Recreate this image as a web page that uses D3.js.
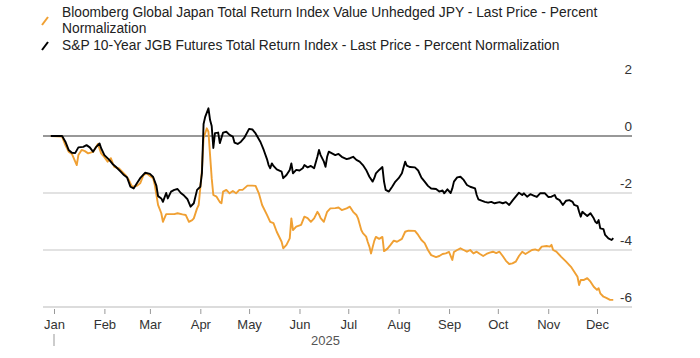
<!DOCTYPE html>
<html>
<head>
<meta charset="utf-8">
<script src="https://cdn.jsdelivr.net/npm/d3@7"></script>
<style>
  html, body { margin: 0; padding: 0; background: #ffffff; }
  svg { display: block; }
  text { font-family: "Liberation Sans", Arial, sans-serif; }
</style>
</head>
<body>
<svg id="chart" width="700" height="358"></svg>
<script>
// ---------- DATA ----------
const seriesNames = [
  "Bloomberg Global Japan Total Return Index Value Unhedged JPY - Last Price - Percent Normalization",
  "S&P 10-Year JGB Futures Total Return Index - Last Price - Percent Normalization"
];

const bbgDates = [
  "2024-12-30","2025-01-06","2025-01-08","2025-01-10","2025-01-12","2025-01-15","2025-01-16","2025-01-18","2025-01-20","2025-01-22",
  "2025-01-25","2025-01-28","2025-01-30","2025-02-01","2025-02-03","2025-02-05","2025-02-07","2025-02-10","2025-02-14","2025-02-16",
  "2025-02-18","2025-02-21","2025-02-23","2025-02-25","2025-02-27","2025-03-01","2025-03-03","2025-03-04","2025-03-06","2025-03-08",
  "2025-03-09","2025-03-11","2025-03-13","2025-03-16","2025-03-18","2025-03-21","2025-03-23","2025-03-25","2025-03-27","2025-03-28",
  "2025-03-30","2025-03-31","2025-04-02","2025-04-03","2025-04-05","2025-04-06","2025-04-07","2025-04-08","2025-04-09","2025-04-11",
  "2025-04-13","2025-04-14","2025-04-15","2025-04-17","2025-04-19","2025-04-21","2025-04-23","2025-04-25","2025-04-27","2025-04-30",
  "2025-05-03","2025-05-05","2025-05-07","2025-05-09","2025-05-12","2025-05-14","2025-05-16","2025-05-18","2025-05-21","2025-05-22",
  "2025-05-24","2025-05-26","2025-05-27","2025-05-28","2025-05-30","2025-06-02","2025-06-04","2025-06-06","2025-06-08","2025-06-10",
  "2025-06-12","2025-06-13","2025-06-14","2025-06-16","2025-06-18","2025-06-20","2025-06-23","2025-06-25","2025-06-27","2025-06-30",
  "2025-07-02","2025-07-04","2025-07-06","2025-07-07","2025-07-09","2025-07-10","2025-07-12","2025-07-13","2025-07-14","2025-07-15",
  "2025-07-17","2025-07-18","2025-07-20","2025-07-22","2025-07-23","2025-07-25","2025-07-27","2025-07-29","2025-07-31","2025-08-03",
  "2025-08-05","2025-08-07","2025-08-11","2025-08-13","2025-08-15","2025-08-17","2025-08-19","2025-08-21","2025-08-24","2025-08-26",
  "2025-08-28","2025-08-30","2025-09-01","2025-09-03","2025-09-04","2025-09-06","2025-09-08","2025-09-10","2025-09-12","2025-09-14",
  "2025-09-16","2025-09-18","2025-09-20","2025-09-22","2025-09-24","2025-09-26","2025-09-28","2025-09-30","2025-10-02","2025-10-04",
  "2025-10-06","2025-10-08","2025-10-10","2025-10-12","2025-10-14","2025-10-16","2025-10-18","2025-10-20","2025-10-22","2025-10-24",
  "2025-10-26","2025-10-28","2025-10-31","2025-11-02","2025-11-03","2025-11-04","2025-11-06","2025-11-09","2025-11-12","2025-11-15",
  "2025-11-17","2025-11-19","2025-11-20","2025-11-21","2025-11-23","2025-11-25","2025-11-27","2025-11-29","2025-12-01","2025-12-02",
  "2025-12-03","2025-12-05","2025-12-07","2025-12-09","2025-12-11"
];
const bbgValues = [
  0.00,-0.02,-0.32,-0.55,-0.63,-1.02,-0.67,-0.49,-0.53,-0.61,
  -0.56,-0.28,-0.61,-0.74,-0.90,-0.78,-1.08,-1.14,-1.37,-1.54,
  -1.78,-1.75,-1.66,-1.37,-1.31,-1.40,-1.48,-1.72,-2.42,-2.71,
  -3.01,-2.74,-2.74,-2.74,-2.71,-2.75,-2.77,-3.01,-2.95,-2.89,
  -2.54,-2.42,-1.19,-0.08,0.27,0.15,-0.67,-1.48,-2.07,-2.13,
  -2.32,-2.36,-1.95,-1.89,-2.01,-1.93,-2.01,-1.89,-1.89,-1.74,
  -1.74,-1.75,-2.01,-2.42,-2.77,-3.01,-3.06,-3.36,-3.71,-3.94,
  -3.82,-3.59,-2.89,-3.30,-3.18,-3.12,-2.83,-2.88,-3.01,-2.89,
  -2.66,-2.75,-2.88,-3.01,-2.66,-2.54,-2.53,-2.51,-2.60,-2.54,
  -2.48,-2.66,-2.77,-2.89,-3.30,-3.41,-3.53,-3.72,-3.88,-4.12,
  -3.68,-3.54,-3.61,-3.54,-4.04,-3.96,-3.82,-3.67,-3.71,-3.61,
  -3.36,-3.32,-3.33,-3.47,-3.65,-3.76,-4.00,-4.18,-4.25,-4.21,
  -4.14,-4.12,-4.07,-4.35,-4.07,-4.00,-3.94,-4.00,-4.06,-4.00,
  -4.12,-4.06,-4.14,-4.21,-4.14,-4.09,-4.06,-4.11,-4.06,-4.21,
  -4.38,-4.49,-4.47,-4.41,-4.21,-4.06,-4.14,-4.07,-4.00,-3.98,
  -4.02,-3.88,-3.86,-3.88,-3.82,-4.00,-4.06,-4.24,-4.41,-4.59,
  -4.76,-4.94,-5.23,-5.05,-5.05,-4.99,-5.11,-5.29,-5.40,-5.34,
  -5.52,-5.64,-5.69,-5.75,-5.75
];

const jgbDates = [
  "2024-12-30","2025-01-06","2025-01-08","2025-01-10","2025-01-12","2025-01-14","2025-01-16","2025-01-19","2025-01-21","2025-01-23",
  "2025-01-25","2025-01-27","2025-01-29","2025-01-30","2025-02-01","2025-02-04","2025-02-06","2025-02-08","2025-02-11","2025-02-13",
  "2025-02-15","2025-02-17","2025-02-19","2025-02-21","2025-02-23","2025-02-26","2025-03-01","2025-03-03","2025-03-05","2025-03-06",
  "2025-03-08","2025-03-09","2025-03-11","2025-03-12","2025-03-14","2025-03-16","2025-03-18","2025-03-20","2025-03-22","2025-03-24",
  "2025-03-26","2025-03-28","2025-03-30","2025-04-01","2025-04-02","2025-04-03","2025-04-04","2025-04-06","2025-04-07","2025-04-08",
  "2025-04-09","2025-04-10","2025-04-12","2025-04-13","2025-04-15","2025-04-17","2025-04-19","2025-04-21","2025-04-22","2025-04-24",
  "2025-04-26","2025-04-28","2025-05-01","2025-05-03","2025-05-05","2025-05-08","2025-05-10","2025-05-12","2025-05-13","2025-05-14",
  "2025-05-15","2025-05-16","2025-05-18","2025-05-21","2025-05-22","2025-05-24","2025-05-26","2025-05-27","2025-05-28","2025-05-30",
  "2025-06-01","2025-06-03","2025-06-04","2025-06-06","2025-06-08","2025-06-10","2025-06-12","2025-06-13","2025-06-14","2025-06-16",
  "2025-06-17","2025-06-18","2025-06-19","2025-06-21","2025-06-23","2025-06-25","2025-06-27","2025-06-30","2025-07-02","2025-07-04",
  "2025-07-06","2025-07-08","2025-07-10","2025-07-12","2025-07-14","2025-07-16","2025-07-17","2025-07-18","2025-07-20","2025-07-22",
  "2025-07-23","2025-07-24","2025-07-26","2025-07-28","2025-07-30","2025-08-01","2025-08-03","2025-08-05","2025-08-06","2025-08-08",
  "2025-08-11","2025-08-13","2025-08-15","2025-08-17","2025-08-19","2025-08-21","2025-08-24","2025-08-26","2025-08-28","2025-08-29",
  "2025-08-31","2025-09-02","2025-09-03","2025-09-04","2025-09-06","2025-09-08","2025-09-10","2025-09-12","2025-09-14","2025-09-17",
  "2025-09-18","2025-09-19","2025-09-21","2025-09-23","2025-09-25","2025-09-27","2025-09-29","2025-10-02","2025-10-04","2025-10-06",
  "2025-10-08","2025-10-10","2025-10-12","2025-10-14","2025-10-16","2025-10-17","2025-10-19","2025-10-21","2025-10-23","2025-10-25",
  "2025-10-27","2025-10-30","2025-11-01","2025-11-03","2025-11-05","2025-11-06","2025-11-08","2025-11-10","2025-11-12","2025-11-14",
  "2025-11-16","2025-11-17","2025-11-19","2025-11-20","2025-11-21","2025-11-22","2025-11-23","2025-11-25","2025-11-27","2025-11-29",
  "2025-11-30","2025-12-01","2025-12-02","2025-12-03","2025-12-05","2025-12-06","2025-12-08","2025-12-10","2025-12-11"
];
const jgbValues = [
  0.00,0.00,-0.20,-0.49,-0.59,-0.60,-0.40,-0.38,-0.32,-0.40,
  -0.55,-0.38,-0.26,-0.43,-0.67,-0.84,-0.98,-1.08,-1.25,-1.37,
  -1.46,-1.78,-1.84,-1.66,-1.48,-1.29,-1.33,-1.44,-1.75,-2.11,
  -2.19,-2.31,-2.00,-2.19,-1.95,-1.89,-1.86,-2.00,-2.09,-2.21,
  -2.48,-2.36,-1.89,-1.78,-1.30,0.42,0.67,0.97,0.56,0.35,
  -0.42,0.10,0.12,-0.25,0.12,0.15,0.04,-0.02,-0.23,-0.28,
  -0.20,-0.07,0.25,0.23,0.09,-0.21,-0.49,-0.81,-1.02,-1.13,
  -0.96,-1.05,-1.17,-1.25,-1.48,-1.37,-1.19,-0.96,-1.31,-1.19,
  -1.21,-1.13,-1.02,-1.10,-1.05,-1.13,-0.73,-0.49,-0.67,-0.90,
  -1.08,-0.73,-0.55,-0.61,-0.67,-0.63,-0.73,-0.81,-0.78,-0.73,
  -0.84,-0.90,-1.02,-1.19,-1.43,-1.60,-1.48,-1.31,-1.19,-1.09,
  -1.60,-1.89,-1.95,-1.78,-1.60,-1.48,-1.31,-0.90,-1.04,-1.09,
  -1.10,-1.21,-1.46,-1.60,-1.75,-1.84,-1.86,-1.95,-1.91,-2.01,
  -1.87,-2.00,-1.84,-1.60,-1.45,-1.43,-1.54,-1.72,-1.78,-1.84,
  -2.07,-2.22,-2.27,-2.31,-2.34,-2.31,-2.36,-2.32,-2.36,-2.32,
  -2.42,-2.27,-2.13,-1.99,-2.07,-2.01,-2.13,-2.04,-2.09,-2.14,
  -2.01,-2.01,-2.14,-2.13,-2.07,-2.19,-2.25,-2.42,-2.27,-2.25,
  -2.31,-2.42,-2.46,-2.66,-2.83,-2.66,-2.71,-2.81,-2.71,-2.89,
  -3.01,-3.06,-2.95,-3.24,-3.27,-3.47,-3.59,-3.65,-3.58
];

const yTicks = [2, 0, -2, -4, -6];
const monthLabels = ["Jan","Feb","Mar","Apr","May","Jun","Jul","Aug","Sep","Oct","Nov","Dec"];
const yearLabel = "2025";
const seriesColors = ["#f0a033", "#000000"];

// ---------- CHART ----------
const svg = d3.select("#chart");
const parse = d3.utcParse("%Y-%m-%d");

const x = d3.scaleUtc()
  .domain([new Date(Date.UTC(2025, 0, 1)), new Date(Date.UTC(2025, 11, 1))])
  .range([54, 597]);
const y = d3.scaleLinear().domain([-6, 2]).range([307, 79]);

const plotLeft = 43, plotRight = 632;

// gridlines
const grid = svg.append("g");
yTicks.filter(v => v !== 2 && v !== -6).forEach(v => {
  grid.append("line")
    .attr("x1", plotLeft).attr("x2", plotRight)
    .attr("y1", y(v)).attr("y2", y(v))
    .attr("stroke", v === 0 ? "#333333" : "#d9d9d9")
    .attr("stroke-width", v === 0 ? 1.2 : 1.3);
});

// y labels
svg.append("g").selectAll("text").data(yTicks).join("text")
  .attr("x", plotRight)
  .attr("y", d => y(d) - 5)
  .attr("text-anchor", "end")
  .attr("font-size", 13.5)
  .attr("fill", "#333")
  .text(d => d3.format("d")(d).replace("−", "-"));

// x axis
const months = monthLabels.map((m, i) => new Date(Date.UTC(2025, i, 1)));
const xAxis = d3.axisBottom(x)
  .tickValues(months)
  .tickFormat((d, i) => monthLabels[i])
  .tickSize(5)
  .tickPadding(6);
const gx = svg.append("g").attr("transform", `translate(0,${y(-6) + 2})`).call(xAxis);
gx.select(".domain").remove();
gx.selectAll(".tick line").attr("stroke", "#999").attr("stroke-width", 1);
gx.selectAll(".tick text")
  .attr("font-size", 13)
  .attr("fill", "#333")
  .attr("font-family", "'Liberation Sans', Arial, sans-serif");

// bottom axis line
svg.append("line")
  .attr("x1", plotLeft).attr("x2", plotRight)
  .attr("y1", y(-6)).attr("y2", y(-6))
  .attr("stroke", "#dcdcdc").attr("stroke-width", 2);

// year label + year divider tick
svg.append("line")
  .attr("x1", x(months[0])).attr("x2", x(months[0]))
  .attr("y1", 334).attr("y2", 346)
  .attr("stroke", "#999").attr("stroke-width", 1);
svg.append("text")
  .attr("x", (x(months[0]) + x(months[11])) / 2 + 0)
  .attr("y", 345)
  .attr("text-anchor", "middle")
  .attr("font-size", 13)
  .attr("fill", "#555")
  .text(yearLabel);

// lines
const line = d3.line()
  .x(d => x(d.date))
  .y(d => y(d.value))
  .curve(d3.curveLinear);

const bbg = bbgDates.map((d, i) => ({ date: parse(d), value: bbgValues[i] }));
const jgb = jgbDates.map((d, i) => ({ date: parse(d), value: jgbValues[i] }));

svg.append("path").datum(bbg)
  .attr("d", line).attr("fill", "none")
  .attr("stroke", seriesColors[0]).attr("stroke-width", 1.9)
  .attr("stroke-linejoin", "round");
svg.append("path").datum(jgb)
  .attr("d", line).attr("fill", "none")
  .attr("stroke", seriesColors[1]).attr("stroke-width", 1.9)
  .attr("stroke-linejoin", "round");

// legend
const legend = svg.append("g");
legend.append("line")
  .attr("x1", 42).attr("y1", 25).attr("x2", 48).attr("y2", 17)
  .attr("stroke", seriesColors[0]).attr("stroke-width", 2);
legend.append("text").attr("x", 62).attr("y", 17)
  .attr("font-size", 13.8).attr("fill", "#222")
  .text("Bloomberg Global Japan Total Return Index Value Unhedged JPY - Last Price - Percent");
legend.append("text").attr("x", 62).attr("y", 33)
  .attr("font-size", 13.8).attr("fill", "#222")
  .text("Normalization");
legend.append("line")
  .attr("x1", 42).attr("y1", 50).attr("x2", 48).attr("y2", 42)
  .attr("stroke", seriesColors[1]).attr("stroke-width", 2);
legend.append("text").attr("x", 62).attr("y", 50)
  .attr("font-size", 13.8).attr("fill", "#222")
  .text(seriesNames[1]);
</script>
</body>
</html>
